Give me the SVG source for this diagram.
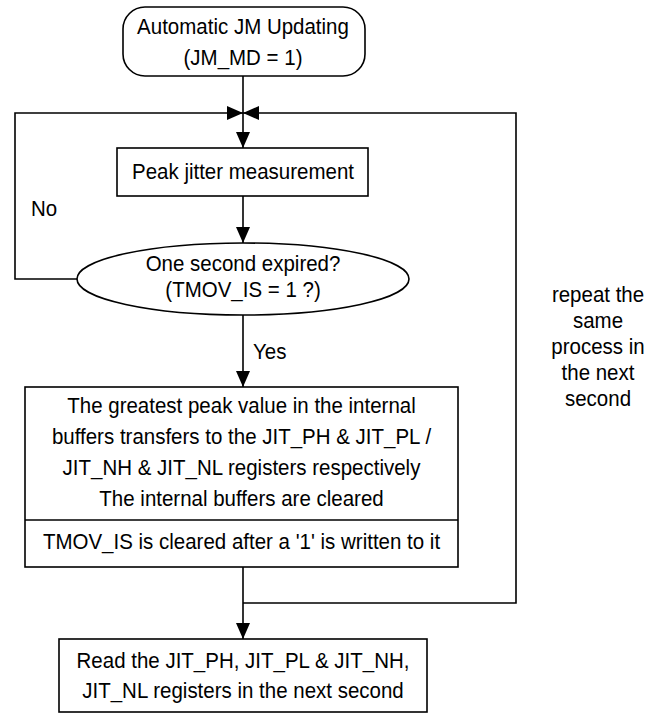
<svg xmlns="http://www.w3.org/2000/svg" width="647" height="713" viewBox="0 0 647 713">
<style>
.box{fill:#fff;stroke:#000;stroke-width:1.6}
.ln{fill:none;stroke:#000;stroke-width:1.6}
text{font-family:"Liberation Sans",Arial,sans-serif;font-size:20.5px;fill:#000}
.c{text-anchor:middle}
</style>
<defs>
<marker id="ah" markerUnits="userSpaceOnUse" markerWidth="16" markerHeight="14" refX="16" refY="7" orient="auto">
<path d="M0,0 L16,7 L0,14 Z" fill="#000"/>
</marker>
</defs>
<rect width="647" height="713" fill="#fff"/>
<g id="connectors">
<path class="ln" d="M243,76 V148" marker-end="url(#ah)"/>
<path class="ln" d="M77,279 H15 V113 H243" marker-end="url(#ah)"/>
<path class="ln" d="M243,603 H516 V113 H243" marker-end="url(#ah)"/>
<path class="ln" d="M243,196 V243" marker-end="url(#ah)"/>
<path class="ln" d="M243,315 V387" marker-end="url(#ah)"/>
<path class="ln" d="M243,567 V639" marker-end="url(#ah)"/>
</g>
<g id="start">
<rect class="box" x="123" y="7" width="242" height="69" rx="22" ry="22"/>
<text class="c" transform="matrix(1,0,0,1.12,243,34)">Automatic JM Updating</text>
<text class="c" transform="matrix(1,0,0,1.12,243,65)">(JM_MD = 1)</text>
</g>
<g id="peak">
<rect class="box" x="117" y="148" width="251" height="48"/>
<text class="c" transform="matrix(1,0,0,1.12,243,179)">Peak jitter measurement</text>
</g>
<g id="decision">
<ellipse class="box" cx="243" cy="279" rx="166" ry="36"/>
<text class="c" transform="matrix(1,0,0,1.12,243,271)">One second expired?</text>
<text class="c" transform="matrix(1,0,0,1.12,243,297)">(TMOV_IS = 1 ?)</text>
</g>
<text transform="matrix(1,0,0,1.12,31,216)">No</text>
<text transform="matrix(1,0,0,1.12,253,359)">Yes</text>
<g id="transfer">
<rect class="box" x="25" y="387" width="433" height="180"/>
<line class="ln" x1="25" y1="520" x2="458" y2="520"/>
<text class="c" transform="matrix(1,0,0,1.12,241.5,413)">The greatest peak value in the internal</text>
<text class="c" transform="matrix(1,0,0,1.12,241.5,444)">buffers transfers to the JIT_PH &amp; JIT_PL /</text>
<text class="c" transform="matrix(1,0,0,1.12,241.5,475)">JIT_NH &amp; JIT_NL registers respectively</text>
<text class="c" transform="matrix(1,0,0,1.12,241.5,506)">The internal buffers are cleared</text>
<text class="c" transform="matrix(1,0,0,1.12,241.5,549)">TMOV_IS is cleared after a '1' is written to it</text>
</g>
<g id="read">
<rect class="box" x="59" y="639" width="368" height="73"/>
<text class="c" transform="matrix(1,0,0,1.12,243,668)">Read the JIT_PH, JIT_PL &amp; JIT_NH,</text>
<text class="c" transform="matrix(1,0,0,1.12,243,698)">JIT_NL registers in the next second</text>
</g>
<g id="note">
<text class="c" transform="matrix(1,0,0,1.12,598,302)">repeat the</text>
<text class="c" transform="matrix(1,0,0,1.12,598,328)">same</text>
<text class="c" transform="matrix(1,0,0,1.12,598,354)">process in</text>
<text class="c" transform="matrix(1,0,0,1.12,598,380)">the next</text>
<text class="c" transform="matrix(1,0,0,1.12,598,406)">second</text>
</g>
</svg>
